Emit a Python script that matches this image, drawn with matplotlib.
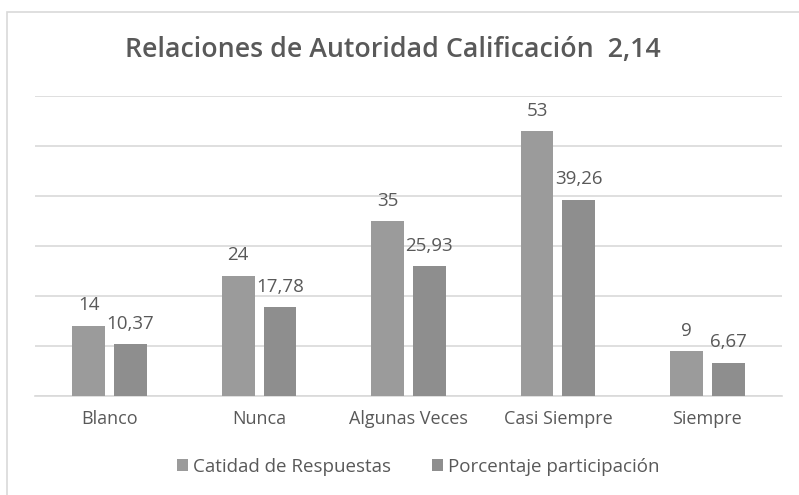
import matplotlib.pyplot as plt
import matplotlib.patches as patches
import numpy as np

categorias = ['Blanco', 'Nunca', 'Algunas Veces', 'Casi Siempre', 'Siempre']
respuestas = [14, 24, 35, 53, 9]
porcentaje = [10.37, 17.78, 25.93, 39.26, 6.67]
etiquetas_resp = ['14', '24', '35', '53', '9']
etiquetas_pct = ['10,37', '17,78', '25,93', '39,26', '6,67']

plt.rcParams['font.family'] = ['Open Sans', 'DejaVu Sans']
texto = '#595959'

fig = plt.figure(figsize=(7.99, 4.95), dpi=100)
ax = fig.add_axes([35 / 799, 1 - 396 / 495, 747 / 799, 300 / 495])

# Chart frame
fig.patches.append(patches.Rectangle((7 / 799, -0.1), 1.1, 1 - 12 / 495 + 0.1,
                                     transform=fig.transFigure, fill=False,
                                     edgecolor='#d9d9d9', linewidth=1.2))

x = np.arange(len(categorias))
w = 0.22
b1 = ax.bar(x - 0.14, respuestas, w, color='#9b9b9b', label='Catidad de Respuestas', zorder=3)
b2 = ax.bar(x + 0.14, porcentaje, w, color='#8e8e8e', label='Porcentaje participación', zorder=3)

for rect, lab in zip(b1, etiquetas_resp):
    ax.text(rect.get_x() + rect.get_width() / 2, rect.get_height() + 2.3, lab,
            ha='center', va='bottom', fontsize=13.5, color=texto)
for rect, lab in zip(b2, etiquetas_pct):
    ax.text(rect.get_x() + rect.get_width() / 2, rect.get_height() + 2.3, lab,
            ha='center', va='bottom', fontsize=13.5, color=texto)

ax.set_xlim(-0.5, len(categorias) - 0.5)
ax.set_ylim(0, 60)
ax.set_yticks(np.arange(0, 61, 10))
ax.yaxis.grid(True, color='#d9d9d9', linewidth=1.2, zorder=0)
ax.tick_params(axis='y', left=False, labelleft=False)
ax.tick_params(axis='x', length=0, pad=10, labelsize=13, labelcolor=texto)
ax.set_xticks(x)
ax.set_xticklabels(categorias)
for s in ['top', 'right', 'left']:
    ax.spines[s].set_visible(False)
ax.spines['bottom'].set_color('#d9d9d9')
ax.spines['bottom'].set_linewidth(1.2)

fig.text(393 / 799, 1 - 50 / 495, 'Relaciones de Autoridad Calificación  2,14', ha='center', va='center',
         fontsize=19.3, fontweight='semibold', color=texto)

fig.legend(handles=[b1, b2], loc='center', bbox_to_anchor=(418 / 799, 1 - 467 / 495), ncol=2,
           frameon=False, fontsize=13.5, labelcolor=texto, handlelength=0.6, handleheight=0.6,
           handletextpad=0.25, columnspacing=2.2)

plt.savefig('out.png', dpi=100)
